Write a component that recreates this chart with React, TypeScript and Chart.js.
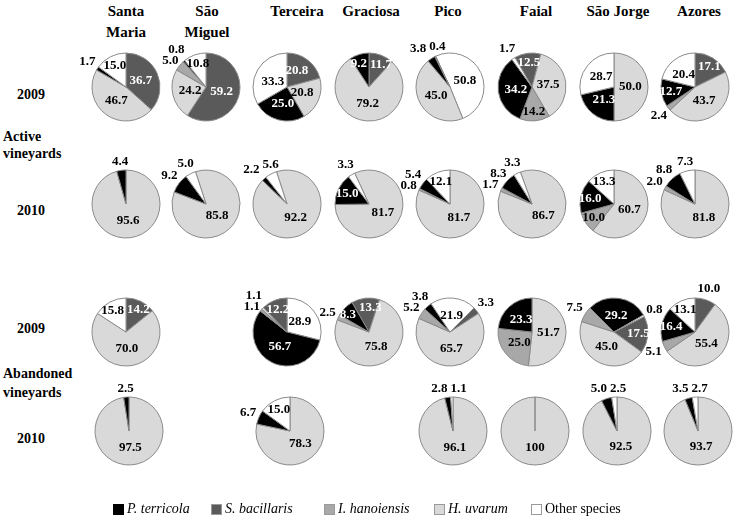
import React, { useEffect, useRef } from "react";
import { Chart, registerables } from "chart.js";
Chart.register(...registerables);

// ---------- data ----------
const islandLabels = ["Santa\nMaria", "São\nMiguel", "Terceira", "Graciosa", "Pico", "Faial", "São Jorge", "Azores"];
const species = ["P. terricola", "S. bacillaris", "I. hanoiensis", "H. uvarum", "Other species"];
const speciesItalic = [true, true, true, true, false];
const speciesColors = ["#000000", "#5a5a5a", "#a8a8a8", "#d9d9d9", "#ffffff"];

// values per island: [P. terricola, S. bacillaris, I. hanoiensis, H. uvarum, Other species]
const active2009 = [
  [1.7, 36.7, 0, 46.7, 15.0],
  [0.8, 59.2, 5.0, 24.2, 10.8],
  [25.0, 20.8, 0, 20.8, 33.3],
  [9.2, 11.7, 0, 79.2, 0],
  [3.8, 0.4, 0, 45.0, 50.8],
  [34.2, 12.5, 14.2, 37.5, 1.7],
  [21.3, 0, 0, 50.0, 28.7],
  [12.7, 17.1, 2.4, 43.7, 20.4],
];
const active2010 = [
  [4.4, 0, 0, 95.6, 0],
  [9.2, 0, 0, 85.8, 5.0],
  [2.2, 0, 0, 92.2, 5.6],
  [15.0, 0, 0, 81.7, 3.3],
  [5.4, 0, 0.8, 81.7, 12.1],
  [8.3, 0, 1.7, 86.7, 3.3],
  [16.0, 0, 10.0, 60.7, 13.3],
  [8.8, 0, 2.0, 81.8, 7.3],
];
const abandoned2009 = [
  [0, 14.2, 0, 70.0, 15.8],
  null,
  [56.7, 12.2, 1.1, 1.1, 28.9],
  [8.3, 13.3, 2.5, 75.8, 0],
  [3.8, 3.3, 5.2, 65.7, 21.9],
  [23.3, 0, 25.0, 51.7, 0],
  [29.2, 17.5, 7.5, 45.0, 0.8],
  [16.4, 10.0, 5.1, 55.4, 13.1],
];
const abandoned2010 = [
  [2.5, 0, 0, 97.5, 0],
  null,
  [6.7, 0, 0, 78.3, 15.0],
  null,
  [2.8, 0, 0, 96.1, 1.1],
  [0, 0, 0, 100, 0],
  [5.0, 0, 0, 92.5, 2.5],
  [3.5, 0, 0, 93.7, 2.7],
];

// ---------- drawing configuration (slice order clockwise, start angle, inside-label threshold) ----------
const STD = [1, 3, 2, 0, 4];
const rowsCfg = [
  { values: active2009, orders: [STD, STD, STD, STD, [4, 3, 0, 1], STD, STD, STD], rot: [0, 0, 0, 0, -25, -30, 0, 0], inMin: [10, 10, 10, 9, 10, 10, 10, 10], y: 87, dx: 0 },
  { values: active2010, orders: [STD, STD, STD, STD, STD, STD, STD, STD], rot: [0, -18, -18, -25, 0, -20, 0, 0], inMin: [10, 10, 10, 10, 10, 10, 10, 10], y: 204, dx: 0 },
  { values: abandoned2009, orders: [STD, STD, [4, 0, 2, 3, 1], STD, STD, STD, STD, STD], rot: [0, 0, 0, -30, 45, 0, 63, 0], inMin: [10, 10, 10, 8, 10, 10, 10, 10.5], y: 332, dx: 0 },
  { values: abandoned2010, orders: [STD, STD, STD, STD, STD, STD, STD, STD], rot: [0, 0, 0, 0, 0, 0, 0, 0], inMin: [10, 10, 10, 10, 10, 10, 10, 10], y: 431, dx: 3 },
];
const colX = [126, 206, 287, 369, 450, 532, 614, 695];
const headerX = [126, 207, 297, 371, 448, 536, 618, 699];
const R = 34;
const CW = 170;
const CH = 140;
const SERIF = "'Liberation Serif', 'Times New Roman', serif";

function fmt(v: number) {
  return v === 100 ? "100" : v.toFixed(1);
}

const labelPlugin = (idx: number[], inMin: number) => ({
  id: "sliceLabels",
  afterDatasetsDraw(chart: any) {
    const ctx = chart.ctx;
    const meta = chart.getDatasetMeta(0);
    const data = chart.data.datasets[0].data as number[];
    ctx.save();
    ctx.textAlign = "center";
    ctx.textBaseline = "middle";
    ctx.font = `bold 13px ${SERIF}`;
    const labels: any[] = [];
    meta.data.forEach((arc: any, k: number) => {
      const p = arc.getProps(["x", "y", "startAngle", "endAngle", "outerRadius"], true);
      const v = data[k];
      const sp = idx[k];
      const mid = (p.startAngle + p.endAngle) / 2;
      const dx = Math.cos(mid);
      const dy = Math.sin(mid);
      const txt = fmt(v);
      const w = ctx.measureText(txt).width;
      let rad: number;
      let inside = true;
      if (v >= 20) rad = p.outerRadius * 0.48;
      else if (v >= inMin) rad = p.outerRadius * 0.72;
      else {
        inside = false;
        rad = p.outerRadius + 2 + Math.abs(dx) * w / 2 + Math.abs(dy) * 6;
      }
      labels.push({
        txt,
        x: p.x + dx * rad,
        y: p.y + dy * rad,
        dy,
        w,
        h: 11,
        inside,
        color: inside && (sp === 0 || sp === 1) ? "#ffffff" : "#000000",
      });
    });
    // simple collision avoidance among labels
    const out = labels;
    for (let it = 0; it < 30; it++) {
      let moved = false;
      for (let i = 0; i < out.length; i++) {
        for (let j = i + 1; j < out.length; j++) {
          const a = out[i];
          const b = out[j];
          const ox = (a.w + b.w) / 2 + 3 - Math.abs(a.x - b.x);
          const oy = (a.h + b.h) / 2 - Math.abs(a.y - b.y);
          if (ox > 0 && oy > 0) {
            moved = true;
            if (Math.min(Math.abs(a.dy), Math.abs(b.dy)) > 0.7) {
              const s = a.x < b.x || (a.x === b.x && i < j) ? -1 : 1;
              a.x += (s * ox) / 2;
              b.x -= (s * ox) / 2;
            } else {
              const s = a.y <= b.y ? -1 : 1;
              a.y += (s * oy) / 2;
              b.y -= (s * oy) / 2;
            }
          }
        }
      }
      if (!moved) break;
    }
    labels.forEach((l) => {
      ctx.fillStyle = l.color;
      ctx.fillText(l.txt, l.x, l.y);
    });
    ctx.restore();
  },
});

function Pie({ values, order, rotation, inMin, cx, cy }: { values: number[]; order: number[]; rotation: number; inMin: number; cx: number; cy: number }) {
  const ref = useRef<HTMLCanvasElement>(null);
  useEffect(() => {
    const idx = order.filter((i) => values[i] > 0);
    const chart = new Chart(ref.current as HTMLCanvasElement, {
      type: "pie",
      data: {
        labels: idx.map((i) => species[i]),
        datasets: [
          {
            data: idx.map((i) => values[i]),
            backgroundColor: idx.map((i) => speciesColors[i]),
            borderColor: "#8a8a8a",
            borderWidth: 1,
            hoverOffset: 0,
            rotation,
            radius: R,
          } as any,
        ],
      },
      options: {
        responsive: false,
        animation: false,
        events: [],
        rotation,
        radius: R,
        layout: { padding: 0 },
        plugins: { legend: { display: false }, tooltip: { enabled: false } },
      } as any,
      plugins: [labelPlugin(idx, inMin)],
    });
    return () => chart.destroy();
  }, []);
  return (
    <canvas
      ref={ref}
      width={CW}
      height={CH}
      style={{ position: "absolute", left: cx - CW / 2, top: cy - CH / 2, width: CW, height: CH }}
    />
  );
}

const textStyle: React.CSSProperties = {
  position: "absolute",
  fontFamily: SERIF,
  fontWeight: "bold",
  color: "#000",
  whiteSpace: "pre",
};

export default function App() {
  return (
    <div style={{ position: "fixed", left: 0, top: 0, width: 737, height: 521, background: "#fff", overflow: "hidden" }}>
      {islandLabels.map((t, i) => (
        <div key={"h" + i} style={{ ...textStyle, fontSize: 15, lineHeight: "21px", top: 1, left: headerX[i] - 50, width: 100, textAlign: "center" }}>
          {t}
        </div>
      ))}
      <div style={{ ...textStyle, fontSize: 14, left: 17, top: 87 }}>2009</div>
      <div style={{ ...textStyle, fontSize: 14, lineHeight: "17px", left: 3, top: 128 }}>{"Active\nvineyards"}</div>
      <div style={{ ...textStyle, fontSize: 14, left: 17, top: 203 }}>2010</div>
      <div style={{ ...textStyle, fontSize: 14, left: 17, top: 321 }}>2009</div>
      <div style={{ ...textStyle, fontSize: 14, lineHeight: "19px", left: 3, top: 364 }}>{"Abandoned\nvineyards"}</div>
      <div style={{ ...textStyle, fontSize: 14, left: 17, top: 431 }}>2010</div>
      {rowsCfg.map((row, r) =>
        row.values.map((vals, c) =>
          vals ? (
            <Pie
              key={r + "-" + c}
              values={vals}
              order={row.orders[c]}
              rotation={row.rot[c]}
              inMin={row.inMin[c]}
              cx={colX[c] + row.dx}
              cy={row.y}
            />
          ) : null
        )
      )}
      {species.map((s, i) => {
        const sx = [113, 211, 324, 434, 531][i];
        return (
          <React.Fragment key={"l" + i}>
            <div
              style={{
                position: "absolute",
                left: sx,
                top: 504,
                width: 9,
                height: 9,
                background: speciesColors[i],
                border: i === 0 ? "1px solid #000" : "1px solid #9a9a9a",
              }}
            />
            <div
              style={{
                position: "absolute",
                left: sx + 14,
                top: 500,
                fontFamily: SERIF,
                fontSize: 14,
                lineHeight: "18px",
                fontStyle: speciesItalic[i] ? "italic" : "normal",
                whiteSpace: "pre",
              }}
            >
              {s}
            </div>
          </React.Fragment>
        );
      })}
    </div>
  );
}
